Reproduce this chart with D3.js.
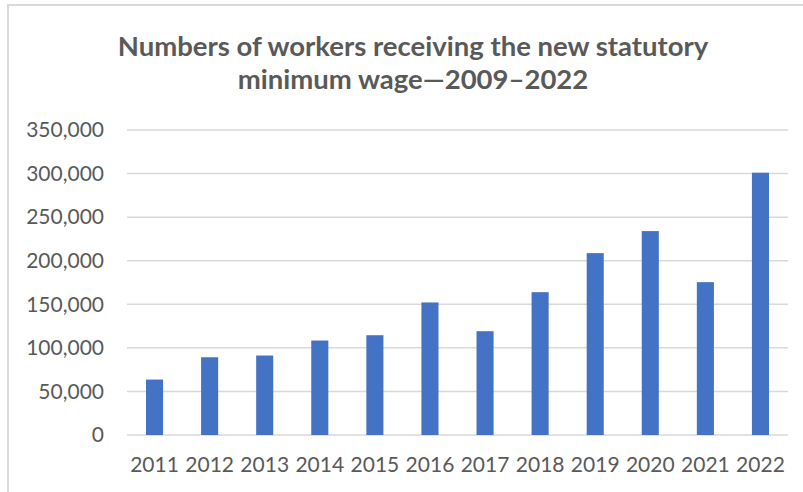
<!DOCTYPE html>
<html>
<head>
<meta charset="utf-8">
<script src="https://cdn.jsdelivr.net/npm/d3@7"></script>
<style>
  body { margin: 0; background: #fff; }
  text { font-family: Lato, "Open Sans", sans-serif; fill: #595959; }
</style>
</head>
<body>
<div id="chart"></div>
<script>
var years = ["2011", "2012", "2013", "2014", "2015", "2016", "2017", "2018", "2019", "2020", "2021", "2022"];
var workers = [63600, 89200, 91200, 108400, 114500, 152100, 119100, 163900, 208700, 234000, 175400, 301000];
var yTicks = [0, 50000, 100000, 150000, 200000, 250000, 300000, 350000];
var titleLines = ["Numbers of workers receiving the new statutory", "minimum wage\u20142009\u20132022"];

var svgWidth = 803;
var svgHeight = 492;

var margin = { top: 130, right: 15, bottom: 57, left: 127 };
var width = svgWidth - margin.left - margin.right;
var height = svgHeight - margin.top - margin.bottom;

var svg = d3.select("#chart")
  .append("svg")
  .attr("width", svgWidth)
  .attr("height", svgHeight);

// chart border
svg.append("rect")
  .attr("x", 8)
  .attr("y", 5)
  .attr("width", svgWidth + 10)
  .attr("height", svgHeight + 10)
  .attr("fill", "none")
  .attr("stroke", "#d9d9d9")
  .attr("stroke-width", 2);

// title
svg.append("text")
  .attr("x", 413)
  .attr("y", 56)
  .attr("text-anchor", "middle")
  .attr("font-size", 27.5)
  .attr("font-weight", "bold")
  .selectAll("tspan")
  .data(titleLines)
  .enter()
  .append("tspan")
  .attr("x", 413)
  .attr("dy", (d, i) => i === 0 ? 0 : 33)
  .text(d => d);

var chartGroup = svg.append("g")
  .attr("transform", `translate(${margin.left}, ${margin.top})`);

var xBandScale = d3.scaleBand()
  .domain(years)
  .range([0, width])
  .paddingInner(0.69)
  .paddingOuter(0.345);

var yLinearScale = d3.scaleLinear()
  .domain([0, 350000])
  .range([height, 0]);

// gridlines
chartGroup.append("g")
  .selectAll("line")
  .data(yTicks)
  .enter()
  .append("line")
  .attr("x1", 0)
  .attr("x2", width)
  .attr("y1", d => yLinearScale(d))
  .attr("y2", d => yLinearScale(d))
  .attr("stroke", "#d9d9d9")
  .attr("stroke-width", 1.5);

// y axis labels
var leftAxis = d3.axisLeft(yLinearScale)
  .tickValues(yTicks)
  .tickFormat(d3.format(","))
  .tickSize(0)
  .tickPadding(23);

var yAxis = chartGroup.append("g").call(leftAxis);
yAxis.select(".domain").remove();
yAxis.selectAll("text")
  .attr("font-size", 21)
  .attr("font-family", "Lato, sans-serif")
  .attr("fill", "#595959");

// bars
chartGroup.append("g")
  .selectAll("rect")
  .data(workers)
  .enter()
  .append("rect")
  .attr("x", (d, i) => xBandScale(years[i]))
  .attr("width", xBandScale.bandwidth())
  .attr("y", d => yLinearScale(d))
  .attr("height", d => height - yLinearScale(d))
  .attr("fill", "#4472c4");

// x axis labels
var bottomAxis = d3.axisBottom(xBandScale)
  .tickSize(0)
  .tickPadding(22);

var xAxis = chartGroup.append("g")
  .attr("transform", `translate(0, ${height})`)
  .call(bottomAxis);
xAxis.select(".domain").remove();
xAxis.selectAll("text")
  .attr("font-size", 21)
  .attr("font-family", "Lato, sans-serif")
  .attr("fill", "#595959");
</script>
</body>
</html>
